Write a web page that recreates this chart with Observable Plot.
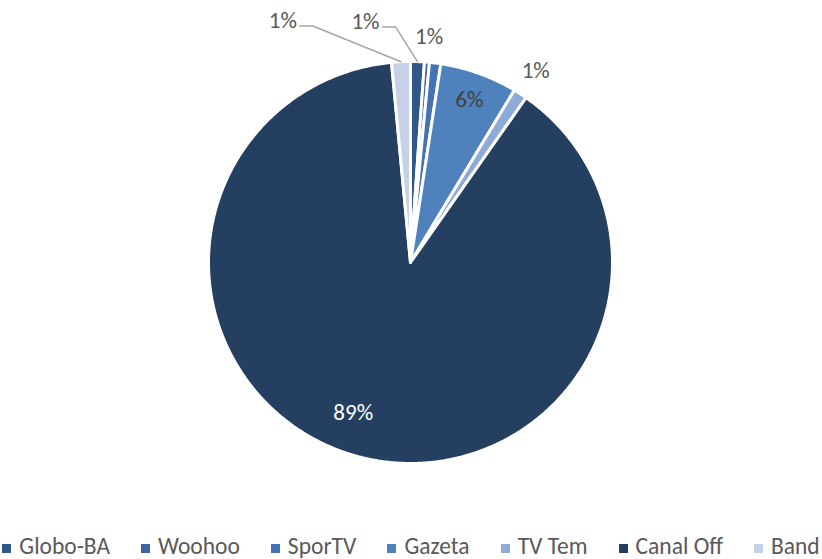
<!DOCTYPE html>
<html>
<head>
<meta charset="utf-8">
<script src="https://cdn.jsdelivr.net/npm/d3@7"></script>
<script src="https://cdn.jsdelivr.net/npm/@observablehq/plot@0.6"></script>
<style>
  html, body { margin: 0; padding: 0; background: #fff; }
  body { width: 822px; height: 559px; position: relative; overflow: hidden; font-family: Carlito, Lato, sans-serif; }
  #legend { position: absolute; left: 0; top: 534px; width: 822px; display: flex; justify-content: center; gap: 31px; font-size: 23.5px; line-height: 24px; color: #595959; white-space: nowrap; }
  #legend .item { display: flex; align-items: center; gap: 8px; }
  #legend .sw { width: 9px; height: 9px; display: inline-block; margin-top: 4px; }
</style>
</head>
<body>
<div id="chart"></div>
<div id="legend"></div>
<script>
// ---- data ----
const names  = ["Globo-BA", "Woohoo", "SporTV", "Gazeta", "TV Tem", "Canal Off", "Band"];
const values = [1.1, 0.4, 0.9, 6.2, 1.1, 88.8, 1.5];
const labels = ["1%", "1%", "", "6%", "1%", "89%", "1%"];
const colors = ["#2f5889", "#3b66a2", "#4472b4", "#4f81bd", "#8eaad6", "#253f60", "#c5d1e6"];

// ---- label layout (radius in pie radii, turn in degrees from slice middle) ----
const labelRadius = [1.22, 1.13, 0, 0.86, 1.14, 0.80, 1.36];
const labelTurn   = [-12.5, 0, 0, 0, 0, 6, -25];
const hasLeader   = [true, false, false, false, false, false, true];
const labelInk    = ["#595959", "#595959", "#595959", "#404040", "#595959", "#ffffff", "#595959"];

const R = 202; // pixel radius (for small pixel offsets)
const arcs = d3.pie().sort(null).value(d => d)(values);

// slice polygons
const slicePts = [];
arcs.forEach((a, i) => {
  slicePts.push({name: names[i], x: 0, y: 0});
  const n = Math.max(2, Math.ceil((a.endAngle - a.startAngle) / (Math.PI / 360)));
  for (let k = 0; k <= n; k++) {
    const t = a.startAngle + (a.endAngle - a.startAngle) * k / n;
    slicePts.push({name: names[i], x: Math.sin(t), y: Math.cos(t)});
  }
});

// labels
const labelData = [];
const leaderPts = [];
arcs.forEach((a, i) => {
  if (!labels[i]) return;
  const mid = (a.startAngle + a.endAngle) / 2;
  const t = mid + labelTurn[i] * Math.PI / 180;
  const lx = labelRadius[i] * Math.sin(t), ly = labelRadius[i] * Math.cos(t);
  labelData.push({name: names[i], text: labels[i], x: lx, y: ly, ink: labelInk[i]});
  if (hasLeader[i]) {
    leaderPts.push({name: names[i], x: lx + 17 / R, y: ly - 5.5 / R});
    leaderPts.push({name: names[i], x: lx + 30 / R, y: ly - 5.5 / R});
    leaderPts.push({name: names[i], x: 1.0 * Math.sin(mid), y: 1.0 * Math.cos(mid)});
  }
});

const inks = Array.from(new Set(labelInk));
const chart = Plot.plot({
  width: 822,
  height: 530,
  margin: 0,
  style: {background: "white", fontFamily: "Carlito, Lato, sans-serif"},
  x: {domain: [-1, 1], range: [208, 612], axis: null},
  y: {domain: [-1, 1], range: [463, 61], axis: null},
  color: {domain: names, range: colors},
  marks: [
    Plot.line(slicePts, {x: "x", y: "y", z: "name", fill: "name", stroke: "white", strokeWidth: 3, curve: "linear-closed"}),
    Plot.line(leaderPts, {x: "x", y: "y", z: "name", stroke: "#a6a6a6", strokeWidth: 1.5}),
    ...inks.map(c => Plot.text(labelData.filter(d => d.ink === c), {x: "x", y: "y", text: "text", fill: c, fontSize: 23}))
  ]
});
document.getElementById("chart").appendChild(chart);

// legend
const legend = d3.select("#legend");
names.forEach((n, i) => {
  const it = legend.append("div").attr("class", "item");
  it.append("span").attr("class", "sw").style("background", colors[i]);
  it.append("span").text(n);
});
</script>
</body>
</html>
